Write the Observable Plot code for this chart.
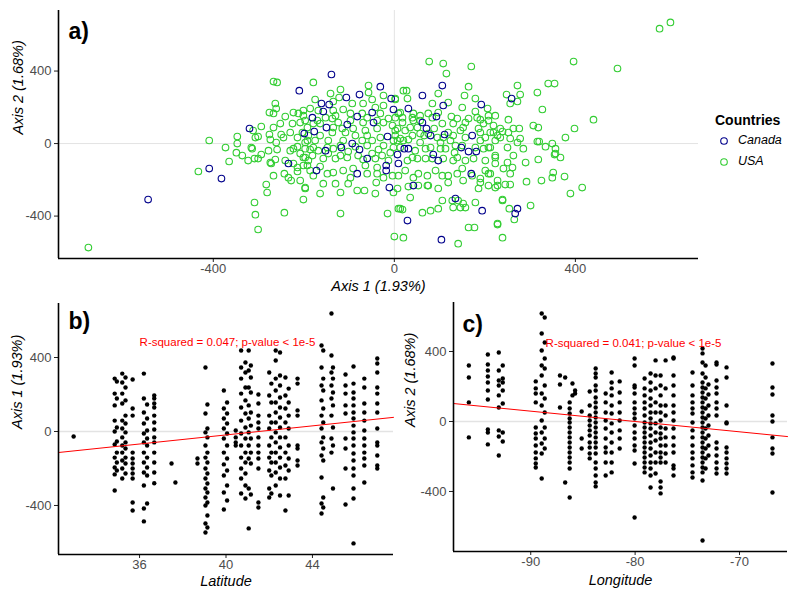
<!DOCTYPE html>
<html><head><meta charset="utf-8">
<script src="https://cdn.jsdelivr.net/npm/d3@7"></script>
<script src="https://cdn.jsdelivr.net/npm/@observablehq/plot@0.6"></script>
<style>
body{margin:0;background:#fff;font-family:"Liberation Sans",Arial,sans-serif;}
#wrap{position:relative;width:800px;height:600px;overflow:hidden;background:#fff;}
.panel{position:absolute;}
#legend{position:absolute;left:700px;top:100px;}
</style></head><body><div id="wrap">
<div id="pa" class="panel" style="left:0;top:0"></div>
<div id="pb" class="panel" style="left:0;top:295px"></div>
<div id="pc" class="panel" style="left:400px;top:295px"></div>
<svg id="legend" width="100" height="80" font-family="Liberation Sans, Arial, sans-serif">
  <text x="15" y="25" font-size="14" font-weight="bold" fill="#000">Countries</text>
  <circle cx="24" cy="41" r="3.3" fill="none" stroke="#00008B" stroke-width="1.1"></circle>
  <text x="38" y="41" font-size="12.5" font-style="italic" dominant-baseline="middle" fill="#000">Canada</text>
  <circle cx="24" cy="62" r="3.3" fill="none" stroke="#32CD32" stroke-width="1.1"></circle>
  <text x="38" y="62" font-size="12.5" font-style="italic" dominant-baseline="middle" fill="#000">USA</text>
</svg>
</div>
<script>
// ---------- DATA ----------
const countries = ["Canada", "USA"];
const axisTicks = [-400, 0, 400];
const latTicks = [36, 40, 44];
const lonTicks = [-90, -80, -70];

// Panel a: [Axis 1, Axis 2]
const canadaPts = [[-544,-309],[-409,-138],[-382,-193],[-320,83],[-210,292],[-199,55],[-234,-110],[-139,381],[-106,254],[-77,270],[-31,314],[-7,248],[-161,221],[-144,215],[-157,177],[-49,171],[-46,116],[-2,188],[-181,143],[-150,88],[-104,105],[-82,149],[-177,66],[-15,39],[-93,0],[-117,-22],[-77,-33],[-152,-39],[-60,-83],[7,-61],[9,-110],[-172,-149],[-82,-166],[-18,-121],[-18,-149],[-11,-243],[106,320],[62,265],[108,210],[192,215],[31,193],[93,149],[62,116],[71,83],[80,44],[111,50],[172,44],[31,-28],[22,-28],[148,-22],[164,-44],[181,-44],[86,-61],[97,-94],[170,-166],[42,-232],[135,-303],[194,-370],[29,-425],[104,-530],[259,248],[272,-359],[267,-386]];
const usaPts = [[-267,342],[-259,337],[-263,221],[-261,193],[-276,171],[-267,166],[-294,94],[-267,88],[-252,110],[-241,149],[-223,171],[-212,166],[-225,110],[-208,116],[-312,72],[-307,33],[-301,39],[-347,39],[-347,0],[-276,50],[-274,22],[-261,6],[-259,-33],[-250,50],[-245,33],[-230,61],[-409,17],[-373,-22],[-349,-50],[-336,-66],[-316,-22],[-314,-28],[-365,-99],[-323,-94],[-309,-83],[-301,-83],[-294,-61],[-278,-39],[-274,-105],[-272,-110],[-263,-88],[-241,-94],[-230,-39],[-223,-28],[-214,-17],[-208,-55],[-197,-77],[-223,-110],[-214,-132],[-201,-121],[-433,-154],[-267,-177],[-243,-166],[-234,-188],[-228,-204],[-214,-154],[-283,-226],[-281,-270],[-197,-243],[-201,-309],[-309,-325],[-307,-392],[-243,-381],[-301,-474],
[-179,337],[-141,276],[-119,298],[-57,320],[-57,281],[-49,243],[-24,265],[2,248],[-175,243],[-135,232],[-122,254],[-93,221],[-69,221],[-42,199],[-24,210],[-201,182],[-186,193],[-168,182],[-135,182],[-113,188],[-71,166],[-31,166],[2,143],[-197,127],[-170,127],[-137,138],[-124,116],[-97,127],[-69,116],[-24,116],[-4,99],[-192,88],[-164,110],[-135,88],[-115,83],[-91,83],[-64,72],[-38,83],[2,72],[-190,44],[-164,44],[-137,61],[-108,61],[-86,44],[-60,44],[-31,33],[-2,17],[-197,6],[-175,17],[-146,17],[-113,17],[-71,17],[-49,17],[-186,-33],[-168,-39],[-135,-28],[-102,-44],[-35,-33],[-9,-50],[-201,-77],[-181,-66],[-157,-83],[-130,-83],[-104,-77],[-69,-88],[-42,-83],[-13,-94],[-192,-121],[-164,-127],[-135,-160],[-91,-138],[-64,-121],[-38,-132],[-179,-177],[-97,-188],[-38,-166],[-4,-177],[-157,-221],[-130,-221],[-102,-221],[-66,-259],[-40,-215],[-197,-248],[-119,-386],[-15,-386],[0,-513],[-2,-270],[9,-359],
[77,452],[108,441],[170,425],[115,386],[164,314],[27,292],[97,276],[155,265],[179,248],[29,248],[84,221],[119,226],[150,199],[206,193],[9,166],[42,166],[75,166],[126,149],[179,177],[223,154],[18,116],[42,127],[106,110],[130,110],[157,116],[197,110],[219,99],[7,83],[24,72],[51,88],[88,83],[119,61],[146,72],[186,83],[212,61],[13,28],[31,22],[57,6],[102,6],[124,17],[135,-11],[190,17],[223,17],[46,-39],[69,-28],[113,-28],[133,-50],[197,-28],[223,-66],[29,-94],[51,-83],[108,-83],[175,-83],[201,-94],[24,-149],[53,-166],[91,-149],[119,-177],[150,-138],[190,-193],[212,-166],[7,-248],[31,-237],[75,-232],[119,-215],[152,-204],[223,-243],[35,-298],[106,-314],[128,-314],[146,-353],[179,-325],[18,-364],[62,-381],[80,-370],[97,-359],[157,-353],[228,-441],[164,-463],[177,-463],[141,-552],[20,-519],
[396,452],[493,414],[272,320],[340,331],[354,331],[248,270],[278,270],[316,281],[256,221],[272,232],[327,188],[252,132],[440,132],[307,99],[318,88],[398,83],[234,83],[263,83],[276,83],[239,66],[252,61],[256,28],[278,28],[272,6],[378,33],[316,11],[320,11],[334,-17],[349,0],[356,-28],[356,-55],[367,-77],[285,-28],[263,-66],[318,-88],[290,-105],[250,-105],[261,-132],[241,-138],[256,-166],[351,-160],[349,-188],[376,-182],[325,-204],[292,-210],[245,-226],[256,-226],[415,-243],[389,-276],[228,-232],[239,-309],[301,-342],[254,-359],[265,-419],[239,-519],[228,-447],[586,634],[610,668],[-676,-574],
[20,292],[13,171],[57,127],[35,88],[7,17],[20,17],[57,55],[75,55],[108,33],[152,88],[183,143],[208,154],[190,61],[219,61],[234,33],[208,-22],[250,-22],[223,-77],[84,-83],[139,-77],[208,-166],[228,-204],[53,-232],[73,-232],[190,-215],[141,-314],[152,-331],[239,-314],[13,-359],[130,-353],[354,-61],
[2,243],[18,143],[40,143],[57,154],[84,143],[97,171],[139,138],[164,138],[190,132],[208,127],[2,44],[40,44],[66,44],[95,33],[130,44],[157,33],[201,33],[228,44],[13,-22],[80,-22],[102,-28],[150,-11],[179,-22],[212,-22],[40,-77],[69,-83],[130,-94],[157,-94],[223,-110],[9,-177],[42,-188],[73,-177],[106,-177],[139,-166],[172,-177],[201,-149],[97,-248],[186,-248],[208,-232],
[-201,154],[-179,110],[-152,143],[-130,154],[-97,166],[-60,143],[-38,127],[-13,138],[-179,-22],[-148,-22],[-119,-11],[-86,-17],[-60,-11],[-24,-11],[-2,-22],[-146,-55],[-119,-66],[-80,-66],[-49,-55],[-27,-66],[-186,-149],[-148,-166],[-113,-149],[-60,-166],[-24,-188],[-119,-270],[-82,-259],[-164,-276],[-42,-276],
[-214,33],[-203,61],[-192,17],[-197,-28],[-190,-94],[-208,-204]];

// Panel b: latitude stripes with Axis 1 values
const latStripes = [
 {lat:32.95, ax1:[-27]},
 {lat:34.85, ax1:[286,205,141,59,0,-70,-141,-195,-232,-319]},
 {lat:34.95, ax1:[270,178,22,-54,-114,-168,-211]},
 {lat:35.2, ax1:[313,265,205,151,59,16,-32,-76,-114,-157,-200,-254]},
 {lat:35.35, ax1:[292,238,168,86,43,-5,-59,-92,-141,-173,-227]},
 {lat:35.68, ax1:[281,124,86,-114,-146,-173,-200,-227,-254,-384,-427]},
 {lat:36.2, ax1:[313,178,103,43,-11,-59,-114,-168,-222,-292,-416,-486]},
 {lat:36.35, ax1:[146,70,5,-38,-76,-141,-195,-238,-389]},
 {lat:36.68, ax1:[195,178,151,130,86,49,11,-32,-59,-114,-168,-222,-280]},
 {lat:37.48, ax1:[-173]},
 {lat:37.66, ax1:[-276]},
 {lat:38.68, ax1:[-146,-173]},
 {lat:39.05, ax1:[346,97,-5,-76,-141,-200,-254,-308,-357,-400,-497,-546]},
 {lat:39.14, ax1:[146,16,-32,-114,-168,-227,-281,-330,-384,-454,-519]},
 {lat:39.9, ax1:[222,124,70,16,-38,-114,-178,-238,-330,-422]},
 {lat:40.05, ax1:[157,97,43,-11,-76,-146,-211,-292,-373]},
 {lat:40.45, ax1:[5,-32,-59,-76]},
 {lat:40.7, ax1:[438,346,286,205,130,59,-11,-76,-141,-200,-254,-335]},
 {lat:40.9, ax1:[373,319,238,168,97,22,-38,-114,-168,-227,-292,-362]},
 {lat:41.05, ax1:[438,330,238,141,70,-5,-76,-146,-308,-524]},
 {lat:41.15, ax1:[357,292,211,103,32,-38,-114,-173,-341]},
 {lat:41.5, ax1:[200,151,86,49,16,-32,-76,-114,-146,-200,-384,-411]},
 {lat:42.0, ax1:[319,195,86,16,-76,-141,-211,-308,-357]},
 {lat:42.1, ax1:[259,157,49,-32,-114,-168,-238,-335]},
 {lat:42.3, ax1:[438,384,286,222,157,103,49,-5,-59,-114,-168,-222,-292]},
 {lat:42.5, ax1:[427,303,249,184,130,76,22,-32,-86,-141,-195,-254,-346]},
 {lat:42.75, ax1:[292,195,124,49,-32,-114,-184,-254,-427]},
 {lat:42.9, ax1:[232,157,86,16,-76,-146,-211,-346]},
 {lat:43.31, ax1:[286,259,114,86,-76,-92,-157,-184]},
 {lat:44.42, ax1:[465,346,249,168,86,16,-59,-130,-249,-389,-443]},
 {lat:44.5, ax1:[438,286,222,124,49,-32,-92,-157,-357,-411]},
 {lat:44.88, ax1:[638,411,319,249,178,86,-38,-114]},
 {lat:44.95, ax1:[346,286,211,141,22,-76,-308]},
 {lat:45.53, ax1:[308,249,205,141,97,-38,-92,-200,-395]},
 {lat:45.9, ax1:[351,259,211,178,141,103,70,32,-5,-38,-76,-119,-157,-200,-238,-308,-362,-605]},
 {lat:46.4, ax1:[286,238,151,103,59,5,-38,-76,-114,-146,-184,-276]},
 {lat:47.0, ax1:[395,368,319,238,205,151,103,16,-59,-76,-130,-184,-200]}
];

// Panel c: longitude stripes with Axis 2 values
const lonStripes = [
 {lon:-95.93, ax2:[320,251,109,-91]},
 {lon:-94.11, ax2:[383,326,291,257,223,177,126,-46,-63,-131]},
 {lon:-93.06, ax2:[394,291,234,206,149,80,-51,-86,-194]},
 {lon:-92.68, ax2:[320,246,223,177,103,-63,-114]},
 {lon:-89.52, ax2:[229,189,160,109,-34,-69,-97,-137,-177,-211,-240,-263]},
 {lon:-88.95, ax2:[617,503,406,320,263,160,91,6,-63,-126,-183,-326]},
 {lon:-88.66, ax2:[594,451,360,303,206,131,51,-34,-97,-154]},
 {lon:-87.2, ax2:[263,211,80]},
 {lon:-86.7, ax2:[251,-349]},
 {lon:-86.0, ax2:[217,149]},
 {lon:-85.75, ax2:[177,160]},
 {lon:-86.27, ax2:[109,74,46,17,-6,-34,-63,-91,-120,-149,-177,-206,-234,-269,-434]},
 {lon:-85.12, ax2:[57,-97,-154]},
 {lon:-84.35, ax2:[171,91,34,6,-23,-51,-80,-120,-149,-183,-211]},
 {lon:-83.78, ax2:[303,274,251,206,177,137,109,80,51,23,-6,-34,-63,-91,-120,-149,-183,-234,-269,-309,-349,-371]},
 {lon:-82.82, ax2:[160,109,51,6,-40,-97,-149,-177,-234,-309]},
 {lon:-82.25, ax2:[280,223,189,149,91,46,-11,-63,-120,-177,-234,-291]},
 {lon:-81.48, ax2:[229,166,109,51,6,-51,-97,-154]},
 {lon:-80.05, ax2:[360,320,206,194,160,109,74,46,17,-23,-63,-97,-137,-166,-240,-549]},
 {lon:-79.09, ax2:[246,189,149,109,74,34,-6,-34,-63,-91,-120,-149,-177,-206,-234,-263,-291]},
 {lon:-78.52, ax2:[274,223,177,131,91,51,17,-11,-40,-80,-120,-154,-194,-234,-269,-309,-377]},
 {lon:-78.04, ax2:[349,263,189,109,51,-11,-63,-109,-177,-234,-297]},
 {lon:-77.56, ax2:[263,206,149,91,51,6,-34,-69,-97,-137,-177,-206,-234,-343,-377,-411]},
 {lon:-77.08, ax2:[349,189,91,34,-40,-91,-137,-183,-234]},
 {lon:-76.32, ax2:[366,360,263,206,149,91,51,6,-40,-91,-137,-177,-251,-269,-309]},
 {lon:-74.5, ax2:[280,206,149,109,74,46,-6,-51,-91,-137,-177,-211,-251,-291,-320]},
 {lon:-73.54, ax2:[417,389,337,274,223,194,166,137,109,80,51,23,-6,-34,-63,-91,-120,-149,-177,-206,-234,-263,-291,-337,-680]},
 {lon:-73.25, ax2:[320,251,189,131,74,17,-40,-97,-154,-211,-269]},
 {lon:-72.97, ax2:[211,154,91,34,-23,-80,-137,-194]},
 {lon:-72.2, ax2:[337,326,234,194,160,109,74,34,-120,-154,-194,-234,-269,-297]},
 {lon:-71.24, ax2:[309,251,91,-6,-11,-149,-177,-211,-240,-269,-297]},
 {lon:-66.84, ax2:[331,194,154,34,0,-91,-154,-183,-406]}
];

// Fitted regression lines
const fitB = {intercept: -509, slope: 12.26, label: "R-squared = 0.047; p-value < 1e-5"};
const fitC = {intercept: -472, slope: -5.9, label: "R-squared = 0.041; p-value < 1e-5"};

// Scale domains
const domA = {x: [-742, 672], y: [-634, 734]};
const domB = {x: [32.25, 47.75], y: [-665, 692]};
const domC = {x: [-97.4, -65.4], y: [-743, 680]};

// ---------- DRAWING ----------
const FONT = "Liberation Sans, Arial, sans-serif";
const colors = {Canada: "#00008B", USA: "#32CD32"};
const fmt = d => String(d);

function axisMarks(xt, yt) {
  return [
    Plot.axisX({ticks: xt, tickFormat: fmt, tickSize: 4, tickPadding: 1, label: null, fill: "#4d4d4d", stroke: "#222", fontSize: 13}),
    Plot.axisY({ticks: yt, tickFormat: fmt, tickSize: 4, tickPadding: 3, label: null, fill: "#4d4d4d", stroke: "#222", fontSize: 13})
  ];
}
function titles(xl, yl, xdy, ydx) {
  return [
    Plot.text([xl], {text: d => d, frameAnchor: "bottom", dy: xdy, fontSize: 14.5, fontStyle: "italic", fill: "#000"}),
    Plot.text([yl], {text: d => d, frameAnchor: "left", rotate: -90, dx: ydx, fontSize: 14.5, fontStyle: "italic", fill: "#000"})
  ];
}
function tag(t, dx, dy) {
  return Plot.text([t], {text: d => d, frameAnchor: "top-left", textAnchor: "start", lineAnchor: "top", dx, dy, fontSize: 23, fontWeight: "bold", fill: "#000"});
}
function baseLines(dom) {
  return [Plot.ruleX([dom.x[0]], {stroke: "#000", strokeWidth: 1.6}), Plot.ruleY([dom.y[0]], {stroke: "#000", strokeWidth: 1.6})];
}

const pa = Plot.plot({
  width: 800, height: 295,
  marginLeft: 58, marginRight: 102, marginTop: 10, marginBottom: 37,
  style: {fontFamily: FONT, fontSize: "13px", background: "transparent", overflow: "visible"},
  x: {domain: domA.x}, y: {domain: domA.y},
  marks: [
    Plot.ruleY([0], {stroke: "#e3e3e3", strokeWidth: 1}),
    Plot.ruleX([0], {stroke: "#e3e3e3", strokeWidth: 1}),
    Plot.dot(usaPts, {x: d => d[0], y: d => d[1], r: 3.3, stroke: colors.USA, strokeWidth: 1.1, fill: "none"}),
    Plot.dot(canadaPts, {x: d => d[0], y: d => d[1], r: 3.3, stroke: colors.Canada, strokeWidth: 1.1, fill: "none"}),
    ...axisMarks(axisTicks, axisTicks),
    ...titles("Axis 1 (1.93%)", "Axis 2 (1.68%)", 32, -40),
    tag("a)", 10, 12),
    ...baseLines(domA)
  ]
});
document.getElementById("pa").append(pa);

const bRows = latStripes.flatMap(s => s.ax1.map(v => ({lat: s.lat, v})));
const pb = Plot.plot({
  width: 400, height: 305,
  marginLeft: 58, marginRight: 7, marginTop: 8, marginBottom: 46,
  style: {fontFamily: FONT, fontSize: "13px", background: "transparent", overflow: "visible"},
  x: {domain: domB.x}, y: {domain: domB.y},
  marks: [
    Plot.ruleY([0], {stroke: "#e3e3e3", strokeWidth: 1.5}),
    Plot.dot(bRows, {x: "lat", y: "v", r: 2.2, fill: "#000"}),
    Plot.line(domB.x.map(x => ({x, y: fitB.intercept + fitB.slope * x})), {x: "x", y: "y", stroke: "#ff0000", strokeWidth: 1}),
    Plot.text([fitB.label], {text: d => d, frameAnchor: "top", dx: 1.5, dy: 34, fontSize: 11.5, fill: "#ff0000"}),
    ...axisMarks(latTicks, axisTicks),
    ...titles("Latitude", "Axis 1 (1.93%)", 31, -41),
    tag("b)", 10, 9),
    ...baseLines(domB)
  ]
});
document.getElementById("pb").append(pb);

const cRows = lonStripes.flatMap(s => s.ax2.map(v => ({lon: s.lon, v})));
const pc = Plot.plot({
  width: 400, height: 305,
  marginLeft: 53, marginRight: 13, marginTop: 7, marginBottom: 49,
  style: {fontFamily: FONT, fontSize: "13px", background: "transparent", overflow: "visible"},
  x: {domain: domC.x}, y: {domain: domC.y},
  marks: [
    Plot.ruleY([0], {stroke: "#e3e3e3", strokeWidth: 1.5}),
    Plot.dot(cRows, {x: "lon", y: "v", r: 2.2, fill: "#000"}),
    Plot.line(domC.x.map(x => ({x, y: fitC.intercept + fitC.slope * x})), {x: "x", y: "y", stroke: "#ff0000", strokeWidth: 1}),
    Plot.text([fitC.label], {text: d => d, frameAnchor: "top", dx: 13, dy: 36, fontSize: 11.5, fill: "#ff0000"}),
    ...axisMarks(lonTicks, axisTicks),
    ...titles("Longitude", "Axis 2 (1.68%)", 33, -43),
    tag("c)", 9, 13),
    ...baseLines(domC)
  ]
});
document.getElementById("pc").append(pc);
</script>
</body></html>
